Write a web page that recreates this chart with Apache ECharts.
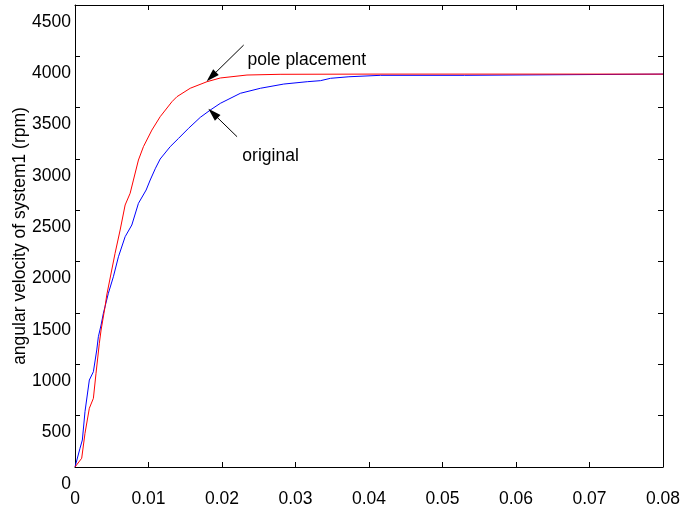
<!DOCTYPE html>
<html>
<head>
<meta charset="utf-8">
<script src="https://cdn.jsdelivr.net/npm/echarts@6/dist/echarts.min.js"></script>
<style>
  html, body { margin: 0; padding: 0; background: #fff; }
  #chart { width: 683px; height: 513px; }
</style>
</head>
<body>
<div id="chart"></div>
<script>
// Step responses: angular velocity (rpm) against time (s)
const tPole = [0, 0.00023, 0.00091, 0.00136, 0.00195, 0.0025, 0.00286, 0.00331, 0.00355, 0.00409,
  0.00432, 0.00545, 0.00614, 0.00682, 0.0075, 0.00795, 0.00863, 0.00931, 0.01046, 0.01159,
  0.01319, 0.01387, 0.01568, 0.01796, 0.01977, 0.0234, 0.0279, 0.04, 0.08];
const vPole = [0, 10, 85, 328, 572, 669, 913, 1205, 1334, 1561,
  1675, 2081, 2308, 2552, 2666, 2795, 2990, 3120, 3282, 3412,
  3558, 3607, 3689, 3753, 3789, 3818, 3825, 3827, 3827];

const tOrig = [0, 0.00023, 0.00068, 0.001, 0.00136, 0.00195, 0.0025, 0.00296, 0.00318, 0.00355,
  0.00386, 0.00454, 0.00522, 0.00591, 0.00682, 0.00773, 0.00863, 0.00968, 0.01023, 0.01095,
  0.01159, 0.01295, 0.01409, 0.01545, 0.01705, 0.01841, 0.01977, 0.0225, 0.02523, 0.0284,
  0.0316, 0.0334, 0.03477, 0.03727, 0.04159, 0.053, 0.0531, 0.08];
const vOrig = [0, 10, 182, 263, 539, 847, 928, 1140, 1269, 1383,
  1497, 1692, 1853, 2048, 2243, 2357, 2568, 2698, 2795, 2910,
  3000, 3120, 3201, 3299, 3406, 3477, 3542, 3640, 3689, 3730,
  3753, 3763, 3786, 3801, 3815, 3815, 3827, 3827];

const xTicks = [0, 0.01, 0.02, 0.03, 0.04, 0.05, 0.06, 0.07, 0.08];
const yTicks = [0, 500, 1000, 1500, 2000, 2500, 3000, 3500, 4000, 4500];

// Annotation arrows (tail -> head) and their captions, in data units
const poleArrow = [[0.02295, 4110], [0.01855, 3801]];
const origArrow = [[0.02205, 3217], [0.01878, 3445]];
const poleText = { name: 'pole placement', at: [0.02346, 3964] };
const origText = { name: 'original', at: [0.02277, 3029] };

const pairs = (t, v) => t.map((x, i) => [x, v[i]]);
const FONT = '"Liberation Sans", Arial, sans-serif';
const FS = 17.5;
const fmtX = v => (v === 0 ? '0' : String(+v.toFixed(2)));
const fmtY = v => String(v);

const boxAxisLine = { show: true, onZero: false, lineStyle: { color: '#000', width: 1 } };
const inTick = { show: true, inside: true, length: 5, lineStyle: { color: '#000', width: 1 } };

const chart = echarts.init(document.getElementById('chart'), null, { renderer: 'canvas' });

const arrowLine = (pts) => ({
  silent: true,
  symbol: ['none', 'triangle'],
  symbolSize: [8, 13],
  label: { show: false },
  lineStyle: { color: '#000', width: 1, type: 'solid' },
  itemStyle: { color: '#000' },
  data: [[{ coord: pts[0] }, { coord: pts[1] }]]
});

const caption = (c) => ({
  silent: true,
  symbol: 'circle',
  symbolSize: 0,
  label: {
    show: true, position: 'right', distance: 0,
    formatter: c.name, color: '#000', fontSize: FS, fontFamily: FONT
  },
  data: [{ coord: c.at }]
});

chart.setOption({
  animation: false,
  backgroundColor: '#fff',
  grid: { left: 75, right: 20, top: 5, bottom: 46, containLabel: false, outerBoundsMode: 'none' },
  xAxis: [
    {
      type: 'value', min: xTicks[0], max: xTicks[xTicks.length - 1], interval: 0.01,
      axisLine: boxAxisLine, axisTick: inTick, splitLine: { show: false },
      axisLabel: { margin: 23, color: '#000', fontSize: FS, fontFamily: FONT, formatter: fmtX }
    },
    {
      type: 'value', position: 'top', min: xTicks[0], max: xTicks[xTicks.length - 1], interval: 0.01,
      axisLine: boxAxisLine, axisTick: inTick, splitLine: { show: false }, axisLabel: { show: false }
    }
  ],
  yAxis: [
    {
      type: 'value', min: yTicks[0], max: yTicks[yTicks.length - 1], interval: 500,
      name: 'angular velocity of system1 (rpm)', nameLocation: 'middle', nameGap: 46,
      nameMoveOverlap: false,
      nameTextStyle: { color: '#000', fontSize: FS, fontFamily: FONT },
      axisLine: boxAxisLine, axisTick: inTick, splitLine: { show: false },
      axisLabel: {
        margin: 4, color: '#000', fontSize: FS, fontFamily: FONT, formatter: fmtY,
        verticalAlign: 'top', padding: [8, 0, 0, 0]
      }
    },
    {
      type: 'value', position: 'right', min: yTicks[0], max: yTicks[yTicks.length - 1], interval: 500,
      axisLine: boxAxisLine, axisTick: inTick, splitLine: { show: false }, axisLabel: { show: false }
    }
  ],
  series: [
    {
      name: 'original', type: 'line', data: pairs(tOrig, vOrig),
      showSymbol: false, symbol: 'none', smooth: false,
      lineStyle: { color: '#0000ff', width: 1 }, z: 2,
      markLine: arrowLine(origArrow), markPoint: caption(origText)
    },
    {
      name: 'pole placement', type: 'line', data: pairs(tPole, vPole),
      showSymbol: false, symbol: 'none', smooth: false,
      lineStyle: { color: '#ff0000', width: 1 }, z: 3,
      markLine: arrowLine(poleArrow), markPoint: caption(poleText)
    }
  ]
});
</script>
</body>
</html>
